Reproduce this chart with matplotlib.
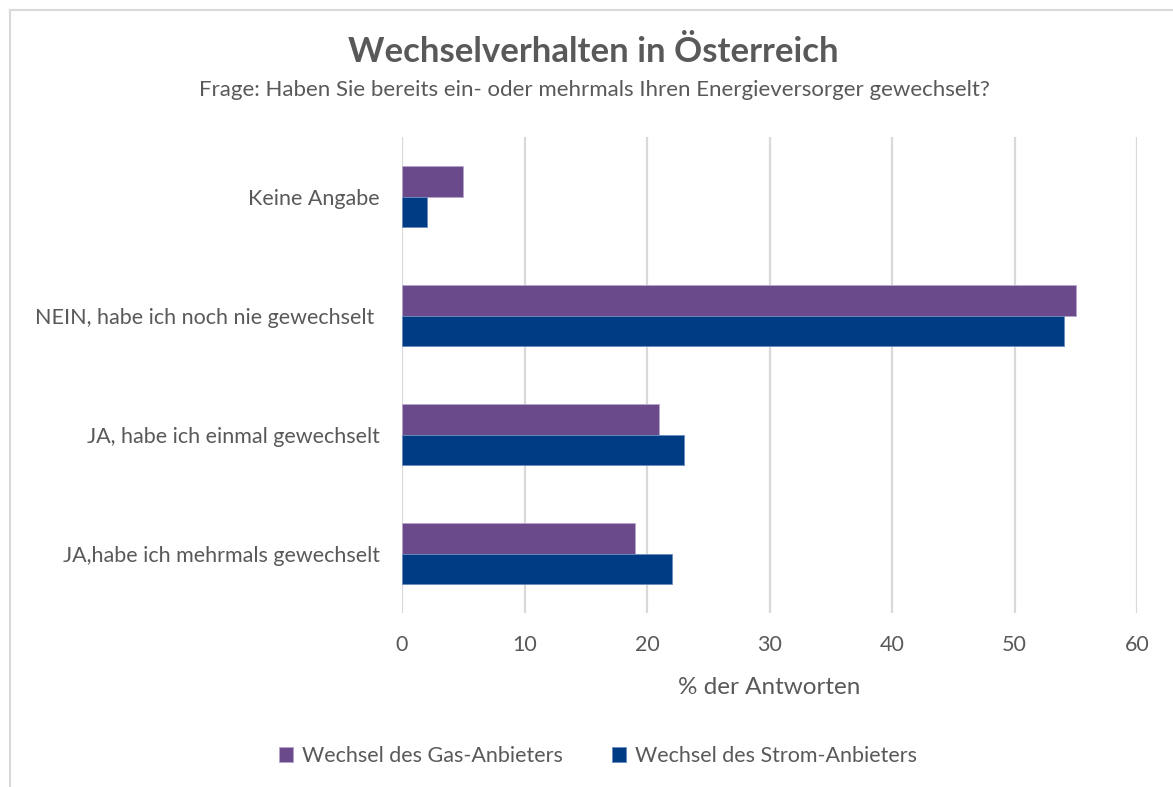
import matplotlib
matplotlib.use("Agg")
import matplotlib.pyplot as plt
from matplotlib.lines import Line2D
import numpy as np

plt.rcParams['font.family'] = ['Lato', 'DejaVu Sans']

categories = ["Keine Angabe", "NEIN, habe ich noch nie gewechselt ",
              "JA, habe ich einmal gewechselt", "JA,habe ich mehrmals gewechselt"]
gas = [5, 55, 21, 19]
strom = [2, 54, 23, 22]
series_names = ["Wechsel des Gas-Anbieters", "Wechsel des Strom-Anbieters"]
xticks = [0, 10, 20, 30, 40, 50, 60]

W, H = 1173, 787
fig = plt.figure(figsize=(W/100, H/100), dpi=100)
ax = fig.add_axes([402/W, 1-613/H, (1137-402)/W, (613-137)/H])

txt = '#595959'
gas_c = '#6B4A8C'
strom_c = '#003C83'

y = np.arange(len(categories))
bh = 0.26
ax.barh(y - bh/2, gas, height=bh, color=gas_c, edgecolor='#B8A5CC', linewidth=0.6,
        label=series_names[0], zorder=3)
ax.barh(y + bh/2, strom, height=bh, color=strom_c, edgecolor='#6A8CC0', linewidth=0.6,
        label=series_names[1], zorder=3)

ax.set_ylim(len(categories) - 0.5, -0.5)
ax.set_xlim(0, 60)
ax.set_xticks(xticks)
ax.set_yticks(y)
ax.set_yticklabels(categories)
ax.tick_params(axis='both', length=0, labelsize=15.5, colors=txt)
ax.tick_params(axis='x', pad=16)
ax.tick_params(axis='y', pad=16)
ax.xaxis.grid(True, color='#D9D9D9', linewidth=1.6, zorder=0)
for s in ax.spines.values():
    s.set_visible(False)
ax.set_xlabel("% der Antworten", fontsize=17.5, color=txt, labelpad=16)

fig.text(593/W, 1-52/H, "Wechselverhalten in Österreich", ha='center', va='center',
         fontsize=25, fontweight='bold', color=txt)
fig.text(594/W, 1-90/H, "Frage: Haben Sie bereits ein- oder mehrmals Ihren Energieversorger gewechselt?",
         ha='center', va='center', fontsize=16, color=txt)

leg = fig.legend(loc='center', bbox_to_anchor=(598/W, 1-756/H), ncol=2, frameon=False,
                 fontsize=15.5, handlelength=0.65, handleheight=0.65, handletextpad=0.4,
                 columnspacing=2.3)
for t in leg.get_texts():
    t.set_color(txt)

fig.add_artist(Line2D([10/W, 10/W], [0, 1-10/H], transform=fig.transFigure, color='#D9D9D9', linewidth=1.5))
fig.add_artist(Line2D([10/W, 1], [1-10/H, 1-10/H], transform=fig.transFigure, color='#D9D9D9', linewidth=1.5))

fig.savefig("out.png", dpi=100, facecolor='white')
